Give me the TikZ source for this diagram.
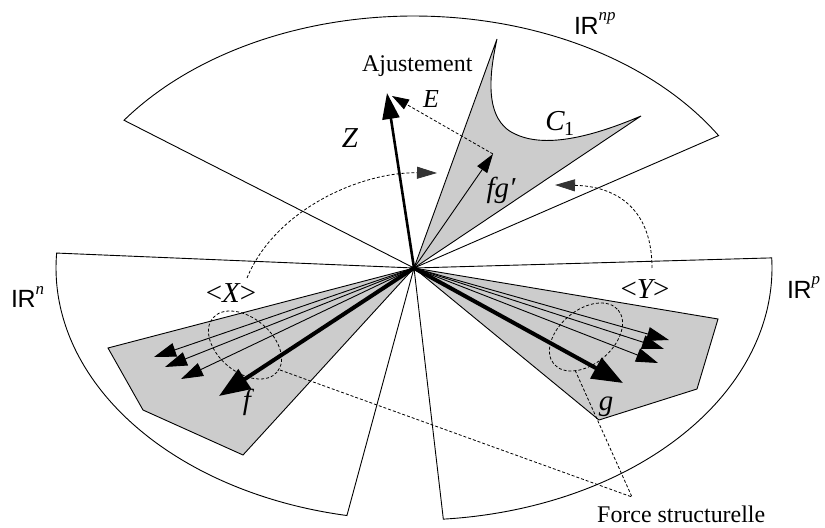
\documentclass[tikz,border=0pt]{standalone}
\usepackage{fontspec}
\setmainfont{Liberation Serif}
\newfontfamily\sfR{Liberation Sans}
\usetikzlibrary{arrows.meta}
\definecolor{regiongray}{RGB}{204,204,204}
\definecolor{headgray}{RGB}{51,51,51}
\begin{document}
\begin{tikzpicture}[x=1bp,y=-1bp,
  sector/.style={draw=black,fill=white,line width=0.9bp,line join=miter},
  region/.style={draw=black,fill=regiongray,line width=0.9bp,line join=miter},
  thinarr/.style={line width=0.9bp,-{Triangle[length=22bp,width=14bp]}},
  thickarr/.style={line width=4bp,-{Triangle[length=31bp,width=23bp]}},
  zarr/.style={line width=2.6bp,-{Triangle[length=26bp,width=17bp]}},
  fgarr/.style={line width=0.9bp,-{Triangle[length=19bp,width=12bp]}},
  dashline/.style={line width=0.8bp,dash pattern=on 3bp off 2bp},
  earr/.style={dashline,-{Triangle[length=17bp,width=11bp]}},
  curvearr/.style={dashline,-{Triangle[length=20bp,width=12bp,color=headgray]}},
  big/.style={inner sep=0pt,font=\fontsize{29}{32}\selectfont\itshape},
  mid/.style={inner sep=0pt,font=\fontsize{26}{28}\selectfont\itshape},
  sub/.style={inner sep=0pt,font=\fontsize{20}{22}\selectfont},
  txt/.style={inner sep=0pt,font=\fontsize{24}{28}\selectfont},
  spacelbl/.style={inner sep=0pt,font=\fontsize{25}{28}\selectfont\sfR},
]
\useasboundingbox (0,0) rectangle (825,528);
\coordinate (O) at (414,268);

% sectors
\draw[sector] (O) -- plot[domain=-144.1:-31.7,samples=90] ({414+358*cos(\x)},{268+252*sin(\x)}) -- cycle;
\draw[sector] (O) -- plot[domain=100.8:183.4,samples=90] ({414+358*cos(\x)},{268+252*sin(\x)}) -- cycle;
\draw[sector] (O) -- plot[domain=-2.3:85.3,samples=90] ({414+358*cos(\x)},{268+252*sin(\x)}) -- cycle;

% gray regions
\draw[region] (O) -- (108,348) -- (143,410) -- (243,455) -- cycle;
\draw[region] (O) -- (718,319) -- (697,389) -- (599,420) -- cycle;
\draw[region] (O) -- (497,39) .. controls (489,75) and (484,120) .. (515,134)
  .. controls (540,146) and (580,142) .. (641,116) -- cycle;

% tips
\coordinate (x1) at (154,357);
\coordinate (x2) at (165,367);
\coordinate (x3) at (181,379);
\coordinate (fT) at (219,396);
\coordinate (y1) at (669,340);
\coordinate (y2) at (664,349);
\coordinate (y3) at (658,363);
\coordinate (gT) at (623,383);
\coordinate (zT) at (387,93);
\coordinate (fgT) at (493,154);
\coordinate (eT) at (392,96);

\draw[thinarr] (O) -- (x1);
\draw[thinarr] (O) -- (x2);
\draw[thinarr] (O) -- (x3);
\draw[thickarr] (O) -- (fT);
\draw[thinarr] (O) -- (y1);
\draw[thinarr] (O) -- (y2);
\draw[thinarr] (O) -- (y3);
\draw[thickarr] (O) -- (gT);
\draw[zarr] (O) -- (zT);
\draw[fgarr] (O) -- (fgT);
\draw[earr] (fgT) -- (eT);

% dashed curved arrows
\coordinate (cl0) at (247,278);
\coordinate (clT) at (437,173);
\draw[curvearr] (cl0) .. controls (275,210) and (360,172) .. (clT);
\coordinate (cr0) at (652,268);
\coordinate (crT) at (555,185);
\draw[curvearr] (cr0) .. controls (652,205) and (612,186) .. (crT);

% dashed ellipses
\draw[dashline,rotate around={-40:(245,345)}] (245,345) ellipse[x radius=42,y radius=27];
\draw[dashline,rotate around={40:(586,337)}] (586,337) ellipse[x radius=42,y radius=27];

% lines to Force structurelle
\coordinate (FS) at (632,497);
\coordinate (lx) at (280,370);
\coordinate (ry) at (575,370);
\draw[dashline] (lx) -- (FS) -- (ry);

% labels
\node[txt,anchor=base west] (aj) at (362,72) {Ajustement};
\node[mid] (El) at (431,99) {E};
\node[big] (Zl) at (350,138) {Z};
\node[big] (fgl) at (501,190) {fg\char"2032};
\node[big] (Cl) at (555,121) {C};
\node[sub] (onel) at (569,129) {1};
\node[big] (Xl) at (231,293) {{\upshape\textless}X{\upshape\textgreater}};
\node[big] (Yl) at (645,289) {{\upshape\textless}Y{\upshape\textgreater}};
\node[big] (fl) at (247,402) {f};
\node[big] (gl) at (606,407) {g};
\node[spacelbl,anchor=base west] (Rn) at (11,308) {I\kern-0.5bp R\raisebox{13bp}{\rmfamily\itshape\fontsize{17}{17}\selectfont n}};
\node[spacelbl,anchor=base west] (Rnp) at (574,35) {I\kern-0.5bp R\raisebox{14bp}{\rmfamily\itshape\fontsize{17}{17}\selectfont np}};
\node[spacelbl,anchor=base west] (Rp) at (787,299) {I\kern-0.5bp R\raisebox{14bp}{\rmfamily\itshape\fontsize{17}{17}\selectfont p}};
\node[txt,anchor=base west] (FSl) at (597,522) {Force structurelle};
\end{tikzpicture}
\end{document}
